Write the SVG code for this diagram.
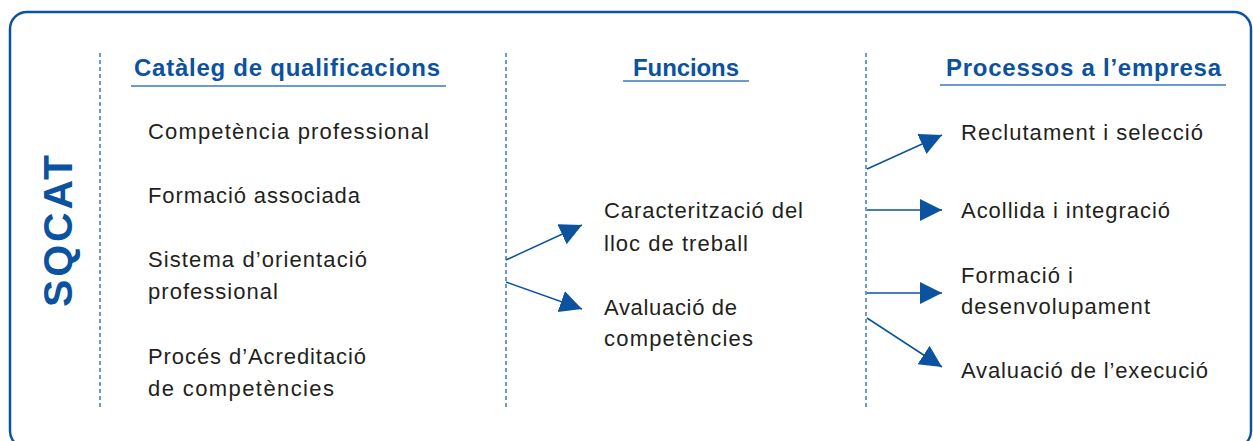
<svg xmlns="http://www.w3.org/2000/svg" width="1253" height="441" viewBox="0 0 1253 441">
<style>
.body{font-family:"Liberation Sans",Arial,sans-serif;font-size:22px;fill:#231F20;}
.head{font-family:"Liberation Sans",Arial,sans-serif;font-size:24px;font-weight:bold;fill:#0B52A0;}
.ul{stroke:#3A78BD;stroke-width:1.6;fill:none;}
.dash{stroke:#3A78BD;stroke-width:1.5;stroke-dasharray:4 3;fill:none;}
.conn{stroke:#0B52A0;stroke-width:1.5;fill:none;}
</style>
<defs>
<marker id="ah" markerUnits="userSpaceOnUse" markerWidth="24" markerHeight="24" refX="22" refY="11" orient="auto">
<path d="M0,0 L22,11 L0,22 Z" fill="#0B52A0"/>
</marker>
</defs>
<rect x="10" y="12" width="1241" height="436" rx="17" fill="#FFFFFF" stroke="#0B52A0" stroke-width="2.5"/>
<g id="sqcat">
<text transform="translate(72,231) rotate(-90)" text-anchor="middle" font-family="'Liberation Sans',Arial,sans-serif" font-size="41" font-weight="bold" fill="#0B52A0" textLength="152" lengthAdjust="spacing">SQCAT</text>
</g>
<g id="separators">
<line class="dash" x1="100" y1="53" x2="100" y2="408"/>
<line class="dash" x1="506" y1="53" x2="506" y2="408"/>
<line class="dash" x1="866" y1="53" x2="866" y2="408"/>
</g>
<g id="heading-cataleg">
<text class="head" x="134" y="76" textLength="306" lengthAdjust="spacing">Catàleg de qualificacions</text>
<line class="ul" x1="131" y1="86" x2="446" y2="86"/>
</g>
<g id="heading-funcions">
<text class="head" x="633" y="76" textLength="106" lengthAdjust="spacing">Funcions</text>
<line class="ul" x1="623" y1="81" x2="749" y2="81"/>
</g>
<g id="heading-processos">
<text class="head" x="946" y="76" textLength="275" lengthAdjust="spacing">Processos a l’empresa</text>
<line class="ul" x1="940" y1="85" x2="1226" y2="85"/>
</g>
<g id="cat-competencia"><text class="body" x="148" y="139" textLength="281" lengthAdjust="spacing">Competència professional</text></g>
<g id="cat-formacio"><text class="body" x="148" y="203" textLength="212" lengthAdjust="spacing">Formació associada</text></g>
<g id="cat-orientacio">
<text class="body" x="148" y="267" textLength="219" lengthAdjust="spacing">Sistema d’orientació</text>
<text class="body" x="148" y="299" textLength="130" lengthAdjust="spacing">professional</text>
</g>
<g id="cat-acreditacio">
<text class="body" x="148" y="364" textLength="218" lengthAdjust="spacing">Procés d’Acreditació</text>
<text class="body" x="148" y="396" textLength="186" lengthAdjust="spacing">de competències</text>
</g>
<g id="fun-caracteritzacio">
<text class="body" x="604" y="218" textLength="199" lengthAdjust="spacing">Caracterització del</text>
<text class="body" x="604" y="251" textLength="144" lengthAdjust="spacing">lloc de treball</text>
</g>
<g id="fun-avaluacio">
<text class="body" x="604" y="315" textLength="133" lengthAdjust="spacing">Avaluació de</text>
<text class="body" x="604" y="346" textLength="149" lengthAdjust="spacing">competències</text>
</g>
<g id="proc-reclutament"><text class="body" x="961" y="140" textLength="242" lengthAdjust="spacing">Reclutament i selecció</text></g>
<g id="proc-acollida"><text class="body" x="961" y="218" textLength="209" lengthAdjust="spacing">Acollida i integració</text></g>
<g id="proc-formacio">
<text class="body" x="961" y="283" textLength="112" lengthAdjust="spacing">Formació i</text>
<text class="body" x="961" y="314" textLength="189" lengthAdjust="spacing">desenvolupament</text>
</g>
<g id="proc-avaluacio"><text class="body" x="961" y="378" textLength="247" lengthAdjust="spacing">Avaluació de l’execució</text></g>
<g id="connectors">
<line class="conn" x1="506" y1="260" x2="582" y2="225" marker-end="url(#ah)"/>
<line class="conn" x1="506" y1="282" x2="582" y2="309" marker-end="url(#ah)"/>
<line class="conn" x1="867" y1="169" x2="942" y2="135" marker-end="url(#ah)"/>
<line class="conn" x1="867" y1="210" x2="942" y2="210" marker-end="url(#ah)"/>
<line class="conn" x1="867" y1="293" x2="942" y2="293" marker-end="url(#ah)"/>
<line class="conn" x1="867" y1="318" x2="942" y2="367" marker-end="url(#ah)"/>
</g>
</svg>
